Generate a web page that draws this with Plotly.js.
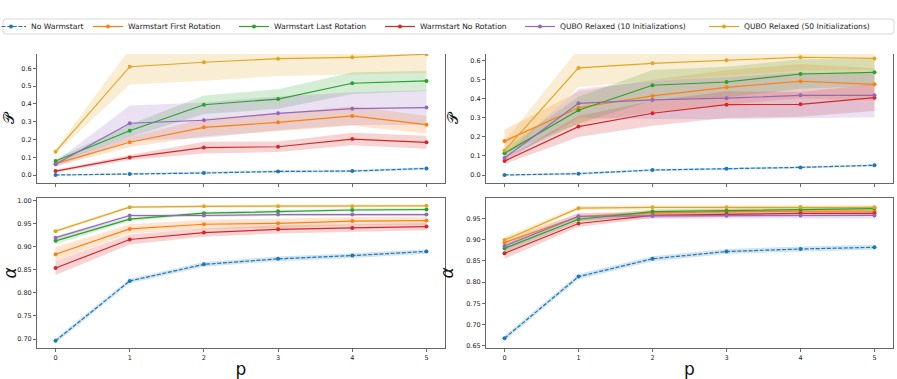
<!DOCTYPE html>
<html><head><meta charset="utf-8">
<script src="https://cdn.plot.ly/plotly-3.0.1.min.js"></script>
<style>html,body{margin:0;padding:0;background:#fff}#chart{width:897px;height:379px}</style>
</head><body><div id="chart"></div>
<script>
// x values (p)
const pValues = [0, 1, 2, 3, 4, 5];
const seriesNames = ["No Warmstart", "Warmstart First Rotation", "Warmstart Last Rotation",
  "Warmstart No Rotation", "QUBO Relaxed (10 Initializations)", "QUBO Relaxed (50 Initializations)"];
const seriesColors = ["#1f77b4", "#ff7f0e", "#2ca02c", "#d62728", "#9467bd", "#e3a521"];

// Top-left: P (mean and band half-width)
const pL_noWarm = [0.0, 0.005, 0.011, 0.020, 0.022, 0.037];
const pL_noWarm_err = [0.003, 0.005, 0.006, 0.007, 0.007, 0.007];
const pL_first = [0.064, 0.184, 0.268, 0.296, 0.332, 0.283];
const pL_first_err = [0.014, 0.028, 0.05, 0.05, 0.055, 0.05];
const pL_last = [0.079, 0.249, 0.395, 0.427, 0.516, 0.529];
const pL_last_err = [0.011, 0.035, 0.052, 0.055, 0.06, 0.057];
const pL_noRot = [0.022, 0.099, 0.154, 0.159, 0.202, 0.184];
const pL_noRot_err = [0.008, 0.014, 0.033, 0.03, 0.035, 0.037];
const pL_q10 = [0.060, 0.291, 0.308, 0.347, 0.373, 0.379];
const pL_q10_err = [0.015, 0.1, 0.1, 0.095, 0.092, 0.098];
const pL_q50 = [0.131, 0.609, 0.634, 0.654, 0.662, 0.679];
const pL_q50_err = [0.011, 0.1, 0.104, 0.097, 0.097, 0.105];

// Top-right: P
const pR_noWarm = [0.0, 0.007, 0.026, 0.033, 0.040, 0.051];
const pR_noWarm_err = [0.004, 0.006, 0.006, 0.006, 0.006, 0.006];
const pR_first = [0.178, 0.353, 0.415, 0.460, 0.492, 0.476];
const pR_first_err = [0.06, 0.085, 0.085, 0.09, 0.09, 0.085];
const pR_last = [0.114, 0.340, 0.471, 0.488, 0.530, 0.539];
const pR_last_err = [0.025, 0.07, 0.08, 0.08, 0.077, 0.07];
const pR_noRot = [0.073, 0.254, 0.324, 0.369, 0.371, 0.406];
const pR_noRot_err = [0.015, 0.055, 0.065, 0.07, 0.065, 0.07];
const pR_q10 = [0.089, 0.376, 0.394, 0.403, 0.418, 0.418];
const pR_q10_err = [0.02, 0.075, 0.1, 0.11, 0.12, 0.115];
const pR_q50 = [0.128, 0.562, 0.586, 0.602, 0.618, 0.612];
const pR_q50_err = [0.05, 0.1, 0.09, 0.08, 0.07, 0.06];

// Bottom-left: alpha
const aL_noWarm = [0.696, 0.826, 0.862, 0.874, 0.881, 0.890];
const aL_noWarm_err = [0.005, 0.005, 0.005, 0.005, 0.005, 0.005];
const aL_first = [0.884, 0.939, 0.949, 0.951, 0.956, 0.957];
const aL_first_err = [0.015, 0.01, 0.01, 0.01, 0.009, 0.009];
const aL_last = [0.913, 0.960, 0.973, 0.977, 0.980, 0.981];
const aL_last_err = [0.007, 0.004, 0.003, 0.003, 0.003, 0.003];
const aL_noRot = [0.854, 0.916, 0.931, 0.938, 0.941, 0.944];
const aL_noRot_err = [0.015, 0.011, 0.009, 0.009, 0.008, 0.008];
const aL_q10 = [0.920, 0.968, 0.968, 0.970, 0.970, 0.970];
const aL_q10_err = [0.003, 0.003, 0.003, 0.003, 0.003, 0.003];
const aL_q50 = [0.934, 0.986, 0.988, 0.988, 0.988, 0.989];
const aL_q50_err = [0.003, 0.003, 0.003, 0.003, 0.003, 0.003];

// Bottom-right: alpha
const aR_noWarm = [0.668, 0.813, 0.855, 0.872, 0.878, 0.882];
const aR_noWarm_err = [0.006, 0.006, 0.006, 0.006, 0.006, 0.006];
const aR_first = [0.893, 0.954, 0.963, 0.966, 0.967, 0.967];
const aR_first_err = [0.01, 0.007, 0.006, 0.006, 0.006, 0.006];
const aR_last = [0.880, 0.948, 0.966, 0.968, 0.971, 0.973];
const aR_last_err = [0.01, 0.006, 0.005, 0.005, 0.005, 0.005];
const aR_noRot = [0.868, 0.938, 0.957, 0.960, 0.962, 0.962];
const aR_noRot_err = [0.013, 0.008, 0.006, 0.006, 0.005, 0.005];
const aR_q10 = [0.885, 0.955, 0.956, 0.956, 0.957, 0.957];
const aR_q10_err = [0.01, 0.008, 0.007, 0.007, 0.007, 0.007];
const aR_q50 = [0.899, 0.974, 0.976, 0.976, 0.977, 0.976];
const aR_q50_err = [0.008, 0.005, 0.005, 0.005, 0.005, 0.005];

const panels = [
  {xa: "x", ya: "y", means: [pL_noWarm, pL_first, pL_last, pL_noRot, pL_q10, pL_q50],
   errs: [pL_noWarm_err, pL_first_err, pL_last_err, pL_noRot_err, pL_q10_err, pL_q50_err]},
  {xa: "x2", ya: "y2", means: [pR_noWarm, pR_first, pR_last, pR_noRot, pR_q10, pR_q50],
   errs: [pR_noWarm_err, pR_first_err, pR_last_err, pR_noRot_err, pR_q10_err, pR_q50_err]},
  {xa: "x3", ya: "y3", means: [aL_noWarm, aL_first, aL_last, aL_noRot, aL_q10, aL_q50],
   errs: [aL_noWarm_err, aL_first_err, aL_last_err, aL_noRot_err, aL_q10_err, aL_q50_err]},
  {xa: "x4", ya: "y4", means: [aR_noWarm, aR_first, aR_last, aR_noRot, aR_q10, aR_q50],
   errs: [aR_noWarm_err, aR_first_err, aR_last_err, aR_noRot_err, aR_q10_err, aR_q50_err]}
];

function rgba(hex, a) {
  const r = parseInt(hex.slice(1, 3), 16), g = parseInt(hex.slice(3, 5), 16), b = parseInt(hex.slice(5, 7), 16);
  return `rgba(${r},${g},${b},${a})`;
}

const legendIds = ["legend", "legend2", "legend3", "legend4", "legend5", "legend6"];
const traces = [];
panels.forEach((pn, pi) => {
  pn.means.forEach((m, si) => {
    const e = pn.errs[si];
    const hi = m.map((v, i) => v + e[i]);
    const lo = m.map((v, i) => v - e[i]);
    traces.push({
      x: pValues.concat(pValues.slice().reverse()),
      y: hi.concat(lo.slice().reverse()),
      xaxis: pn.xa, yaxis: pn.ya, type: "scatter", mode: "lines",
      fill: "toself", fillcolor: rgba(seriesColors[si], 0.2),
      line: {width: 0, color: rgba(seriesColors[si], 0)},
      showlegend: false, hoverinfo: "skip"
    });
  });
  pn.means.forEach((m, si) => {
    traces.push({
      x: pValues, y: m, xaxis: pn.xa, yaxis: pn.ya, type: "scatter", mode: "lines+markers",
      name: seriesNames[si], legendgroup: seriesNames[si], showlegend: pi === 0,
      legend: legendIds[si],
      line: {color: seriesColors[si], width: 1.2, dash: si === 0 ? "4px,1.6px" : "solid"},
      marker: {color: seriesColors[si], size: 4}
    });
  });
});

// figure size and margins (px); helpers convert figure pixels to paper fractions
const W = 897, H = 379, ML = 20, MR = 0, MT = 0, MB = 0;
const PW = W - ML - MR, PH = H - MT - MB;
const xp = px => (px - ML) / PW;            // px from left edge
const yp = py => (H - MB - py) / PH;        // py from top edge

const tickFont = {family: "DejaVu Sans", size: 6.5, color: "#222"};
const axisCommon = {showgrid: false, zeroline: false, showline: true, linecolor: "#666", linewidth: 1,
  ticks: "outside", ticklen: 3, tickwidth: 0.8, tickcolor: "#444", tickfont: tickFont};
const xCommon = Object.assign({}, axisCommon, {range: [-0.25, 5.25], tickvals: pValues, mirror: false});

// legend box with rounded corners
const bx0 = xp(3), bx1 = xp(894), by0 = yp(34), by1 = yp(19), rx = 3 / PW, ry = 3 / PH;
const boxPath = `M${bx0 + rx},${by1} L${bx1 - rx},${by1} Q${bx1},${by1} ${bx1},${by1 - ry} L${bx1},${by0 + ry} ` +
  `Q${bx1},${by0} ${bx1 - rx},${by0} L${bx0 + rx},${by0} Q${bx0},${by0} ${bx0},${by0 + ry} L${bx0},${by1 - ry} ` +
  `Q${bx0},${by1} ${bx0 + rx},${by1} Z`;

const legendLeftPx = [-9, 88, 234, 380, 520, 704];
const legendFont = {family: "DejaVu Sans", size: 7.6, color: "#222"};
const titleFont = {family: "DejaVu Sans", size: 17, color: "#111"};

const layout = {
  width: W, height: H,
  margin: {l: ML, r: MR, t: MT, b: MB, autoexpand: false},
  paper_bgcolor: "#fff", plot_bgcolor: "#fff",
  font: {family: "DejaVu Sans", color: "#222"},
  showlegend: true,
  shapes: [{type: "path", xref: "paper", yref: "paper", path: boxPath,
    line: {color: "#d8d8d8", width: 1}, fillcolor: "rgba(255,255,255,0.8)", layer: "below"}],
  xaxis: Object.assign({}, xCommon, {domain: [xp(37), xp(445)], anchor: "y", showticklabels: false}),
  xaxis2: Object.assign({}, xCommon, {domain: [xp(486), xp(893)], anchor: "y2", showticklabels: false}),
  xaxis3: Object.assign({}, xCommon, {domain: [xp(37), xp(445)], anchor: "y3", mirror: true,
    title: {text: "p", font: titleFont, standoff: 2}}),
  xaxis4: Object.assign({}, xCommon, {domain: [xp(486), xp(893)], anchor: "y4", mirror: true,
    title: {text: "p", font: titleFont, standoff: 2}}),
  yaxis: Object.assign({}, axisCommon, {domain: [yp(183), yp(54)], anchor: "x", mirror: true,
    range: [-0.045, 0.6805], dtick: 0.1, tick0: 0, tickformat: ".1f",
    title: {text: "𝒫", font: {family: "DejaVu Sans", size: 15, color: "#111"}, standoff: 6}}),
  yaxis2: Object.assign({}, axisCommon, {domain: [yp(183), yp(54)], anchor: "x2", mirror: true,
    range: [-0.042, 0.635], dtick: 0.1, tick0: 0, tickformat: ".1f",
    title: {text: "𝒫", font: {family: "DejaVu Sans", size: 15, color: "#111"}, standoff: 8}}),
  yaxis3: Object.assign({}, axisCommon, {domain: [yp(348), yp(198)], anchor: "x3", mirror: true,
    range: [0.6805, 1.006], dtick: 0.05, tick0: 0.7, tickformat: ".2f",
    title: {text: "α", font: Object.assign({}, titleFont, {style: "italic"}), standoff: 6}}),
  yaxis4: Object.assign({}, axisCommon, {domain: [yp(348), yp(198)], anchor: "x4", mirror: true,
    range: [0.645, 0.998], dtick: 0.05, tick0: 0.65, tickformat: ".2f",
    title: {text: "α", font: Object.assign({}, titleFont, {style: "italic"}), standoff: 8}})
};
legendIds.forEach((id, i) => {
  layout[id] = {orientation: "h", x: xp(legendLeftPx[i]), xanchor: "left", y: yp(26.5), yanchor: "middle",
    font: legendFont, bgcolor: "rgba(0,0,0,0)", borderwidth: 0, itemwidth: 30};
});

Plotly.newPlot("chart", traces, layout, {displayModeBar: false, staticPlot: true});
</script></body></html>
